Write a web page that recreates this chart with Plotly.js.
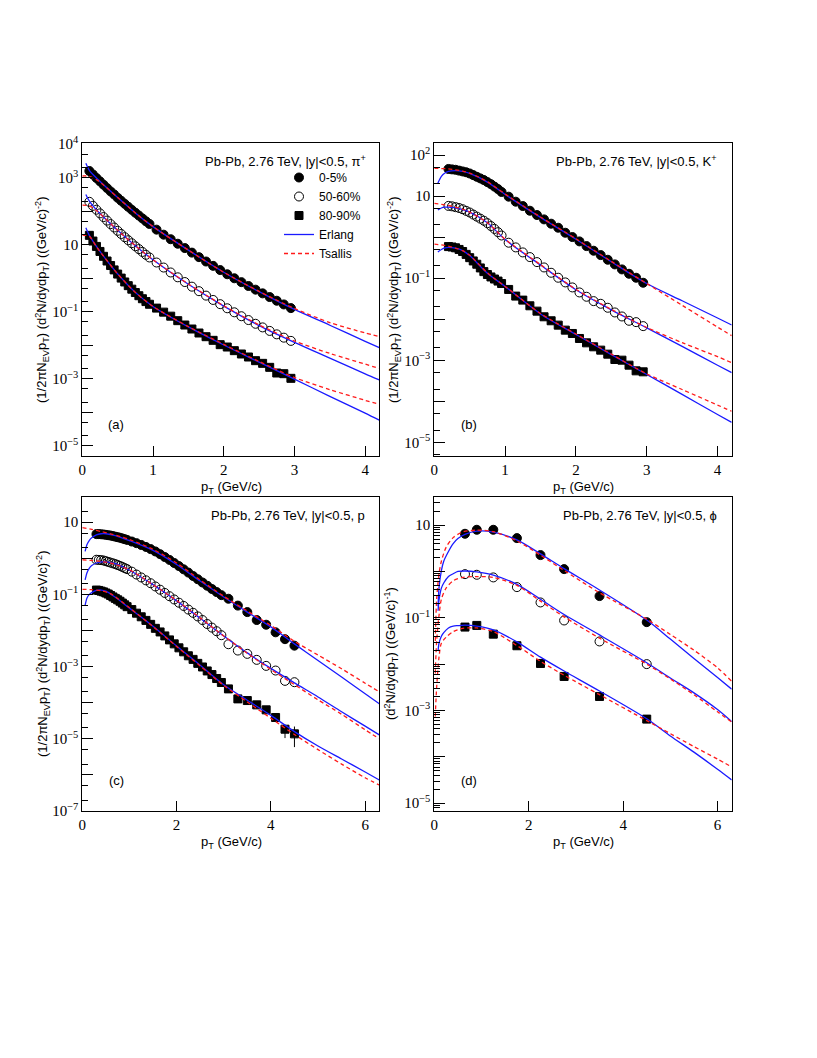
<!DOCTYPE html>
<html><head><meta charset="utf-8">
<script src="https://cdn.plot.ly/plotly-3.0.1.min.js"></script>
<style>body{margin:0;background:#fff}</style>
</head><body><div id="chart" style="width:817px;height:1058px"></div>
<script>
// ---------- data (values stored as log10 exponents) ----------
const ptPion = [0.1,0.15,0.2,0.25,0.3,0.35,0.4,0.45,0.5,0.55,0.6,0.65,0.7,0.75,0.8,0.85,0.9,0.95,
  1.05,1.15,1.25,1.35,1.45,1.55,1.65,1.75,1.85,1.95,2.05,2.15,2.25,2.35,2.45,2.55,2.65,2.75,2.85,2.95];
const pionCentralLog = [3.20,3.095,2.99,2.89,2.79,2.69,2.59,2.50,2.40,2.31,2.22,2.13,2.04,1.955,1.87,1.785,1.70,1.62,
  1.45,1.30,1.165,1.03,0.90,0.765,0.63,0.50,0.37,0.245,0.12,0.0,-0.115,-0.23,-0.34,-0.45,-0.56,-0.67,-0.78,-0.89];
const pionMidLog = [2.28,2.16,2.045,1.935,1.825,1.72,1.615,1.515,1.415,1.32,1.225,1.135,1.045,0.955,0.87,0.785,0.70,0.62,
  0.47,0.32,0.173,0.029,-0.112,-0.25,-0.385,-0.517,-0.646,-0.772,-0.895,-1.015,-1.132,-1.246,-1.357,-1.465,-1.57,-1.672,-1.771,-1.867];
const pionPeriphLog = [1.28,1.11,0.95,0.80,0.655,0.515,0.38,0.25,0.125,0.005,-0.11,-0.22,-0.325,-0.425,-0.52,-0.61,-0.695,-0.775,
  -0.89,-1.01,-1.13,-1.264,-1.394,-1.513,-1.632,-1.742,-1.851,-1.98,-2.05,-2.159,-2.258,-2.348,-2.457,-2.537,-2.656,-2.825,-2.845,-2.984];

const ptKaon = [0.2,0.25,0.3,0.35,0.4,0.45,0.5,0.55,0.6,0.65,0.7,0.75,0.8,0.85,0.9,0.95,
  1.05,1.15,1.25,1.35,1.45,1.55,1.65,1.75,1.85,1.95,2.05,2.15,2.25,2.35,2.45,2.55,2.65,2.75,2.85,2.95];
const kaonCentralLog = [1.66,1.65,1.64,1.62,1.60,1.58,1.55,1.51,1.47,1.43,1.39,1.34,1.29,1.23,1.17,1.10,
  0.985,0.863,0.757,0.643,0.538,0.432,0.327,0.229,0.107,0.002,-0.104,-0.218,-0.331,-0.437,-0.551,-0.664,-0.786,-0.892,-0.989,-1.111];
const kaonMidLog = [0.76,0.75,0.73,0.71,0.68,0.64,0.60,0.55,0.50,0.45,0.40,0.34,0.27,0.20,0.12,0.04,
  -0.136,-0.250,-0.372,-0.486,-0.608,-0.738,-0.868,-0.989,-1.103,-1.225,-1.347,-1.452,-1.558,-1.623,-1.720,-1.834,-1.932,-2.037,-2.070,-2.167];
const kaonPeriphLog = [-0.23,-0.24,-0.26,-0.30,-0.35,-0.42,-0.50,-0.58,-0.66,-0.75,-0.84,-0.91,-0.97,-1.02,-1.07,-1.13,
  -1.274,-1.436,-1.534,-1.672,-1.802,-1.940,-2.037,-2.143,-2.265,-2.346,-2.468,-2.574,-2.671,-2.752,-2.850,-2.980,-2.996,-3.118,-3.256,-3.280];

const ptProton = [0.3,0.35,0.4,0.45,0.5,0.55,0.6,0.65,0.7,0.75,0.8,0.85,0.9,0.95,
  1.05,1.15,1.25,1.35,1.45,1.55,1.65,1.75,1.85,1.95,2.05,2.15,2.25,2.35,2.45,2.55,2.65,2.75,2.85,2.95,
  3.1,3.3,3.5,3.7,3.9,4.1,4.3,4.5];
const protonCentralLog = [0.67,0.67,0.665,0.66,0.65,0.64,0.63,0.615,0.60,0.585,0.57,0.55,0.53,0.51,
  0.465,0.42,0.37,0.315,0.255,0.19,0.115,0.035,-0.045,-0.13,-0.215,-0.305,-0.395,-0.49,-0.58,-0.67,-0.76,-0.85,-0.935,-1.02,
  -1.12,-1.31,-1.49,-1.71,-1.84,-2.05,-2.24,-2.42];
const protonMidLog = [-0.04,-0.045,-0.05,-0.06,-0.08,-0.10,-0.12,-0.14,-0.16,-0.185,-0.21,-0.24,-0.27,-0.30,
  -0.37,-0.45,-0.53,-0.61,-0.69,-0.78,-0.87,-0.96,-1.05,-1.14,-1.23,-1.32,-1.42,-1.51,-1.61,-1.71,-1.82,-1.92,-2.02,-2.13,
  -2.38,-2.555,-2.647,-2.813,-2.98,-3.109,-3.395,-3.432];
const protonPeriphLog = [-0.88,-0.89,-0.91,-0.93,-0.96,-0.99,-1.03,-1.07,-1.11,-1.15,-1.19,-1.24,-1.29,-1.34,
  -1.42,-1.52,-1.62,-1.72,-1.83,-1.94,-2.04,-2.15,-2.26,-2.37,-2.48,-2.59,-2.70,-2.80,-2.91,-3.01,-3.12,-3.22,-3.33,-3.44,
  -3.617,-3.894,-3.94,-4.06,-4.198,-4.41,-4.734,-4.863];
// error bar ends (log10) for the two last peripheral proton points
const protonPeriphErrPt = [4.3,4.5];
const protonPeriphErrHiLog = [-4.61,-4.66];
const protonPeriphErrLoLog = [-4.98,-5.23];

const ptPhi = [0.65,0.9,1.25,1.75,2.25,2.75,3.5,4.5];
const phiCentralLog = [0.813,0.899,0.899,0.719,0.353,0.050,-0.532,-1.094];
const phiMidLog = [-0.058,-0.072,-0.129,-0.338,-0.669,-1.058,-1.511,-2.0];
const phiPeriphLog = [-1.201,-1.165,-1.353,-1.604,-1.986,-2.266,-2.698,-3.187];

// ---------- fit curves (log10) ----------
const erlangPtA = [0.05,0.1,0.2,0.3,0.5,0.75,1.0,1.5,2.0,2.5,3.0,3.5,4.0,4.2];
const tsallisPtA = [0,0.1,0.2,0.3,0.5,0.75,1.0,1.5,2.0,2.5,3.0,3.5,4.0,4.2];
const erlangPionCentral = [3.43,3.22,2.99,2.79,2.41,1.95,1.54,0.84,0.18,-0.40,-0.93,-1.40,-1.88,-2.07];
const tsallisPionCentral = [3.05,3.04,2.94,2.78,2.41,1.95,1.54,0.84,0.18,-0.39,-0.90,-1.32,-1.63,-1.74];
const erlangPionMid = [2.50,2.30,2.04,1.83,1.43,0.97,0.55,-0.18,-0.83,-1.41,-1.91,-2.38,-2.85,-3.03];
const tsallisPionMid = [2.18,2.16,2.02,1.83,1.43,0.97,0.55,-0.17,-0.82,-1.39,-1.87,-2.24,-2.56,-2.69];
const erlangPionPeriph = [1.51,1.28,0.95,0.66,0.13,-0.42,-0.84,-1.45,-1.99,-2.50,-3.01,-3.52,-4.02,-4.23];
const tsallisPionPeriph = [1.29,1.25,0.94,0.66,0.13,-0.42,-0.84,-1.44,-1.97,-2.48,-2.96,-3.32,-3.64,-3.76];

const erlangPtB = [0.05,0.1,0.15,0.2,0.3,0.4,0.5,0.75,1.0,1.5,2.0,2.5,3.0,3.5,4.0,4.2];
const tsallisPtB = [0,0.1,0.2,0.3,0.4,0.5,0.75,1.0,1.5,2.0,2.5,3.0,3.5,4.0,4.2];
const erlangKaonCentral = [1.31,1.48,1.56,1.60,1.62,1.60,1.55,1.34,1.04,0.48,-0.05,-0.60,-1.13,-1.55,-1.97,-2.14];
const tsallisKaonCentral = [1.675,1.67,1.66,1.64,1.61,1.56,1.35,1.05,0.49,-0.04,-0.59,-1.13,-1.66,-2.19,-2.40];
const erlangKaonMid = [0.66,0.71,0.73,0.73,0.71,0.67,0.61,0.35,-0.06,-0.68,-1.28,-1.77,-2.21,-2.66,-3.12,-3.30];
const tsallisKaonMid = [0.82,0.80,0.77,0.73,0.68,0.61,0.35,-0.05,-0.67,-1.27,-1.76,-2.20,-2.57,-2.91,-3.06];
const erlangKaonPeriph = [-0.36,-0.30,-0.26,-0.25,-0.27,-0.33,-0.45,-0.88,-1.20,-1.87,-2.37,-2.86,-3.345,-3.83,-4.32,-4.51];
const tsallisKaonPeriph = [-0.17,-0.19,-0.22,-0.27,-0.33,-0.44,-0.87,-1.20,-1.86,-2.36,-2.85,-3.33,-3.71,-4.09,-4.24];

const erlangPtC = [0.06,0.1,0.15,0.2,0.3,0.4,0.5,0.7,1.0,1.5,2.0,2.5,3.0,3.5,4.0,4.5,5.0,5.5,6.0,6.3];
const tsallisPtC = [0,0.2,0.4,0.6,1.0,1.5,2.0,2.5,3.0,3.5,4.0,4.5,5.0,5.5,6.0,6.3];
const erlangProtonCentral = [0.19,0.38,0.50,0.57,0.65,0.68,0.68,0.63,0.49,0.22,-0.17,-0.63,-1.07,-1.49,-1.90,-2.37,-2.83,-3.29,-3.75,-4.03];
const tsallisProtonCentral = [0.85,0.80,0.74,0.68,0.52,0.25,-0.13,-0.60,-1.05,-1.46,-1.86,-2.30,-2.68,-3.06,-3.46,-3.70];
const erlangProtonMid = [-0.60,-0.40,-0.27,-0.20,-0.13,-0.10,-0.10,-0.15,-0.33,-0.73,-1.18,-1.66,-2.15,-2.62,-3.05,-3.45,-3.84,-4.25,-4.65,-4.89];
const tsallisProtonMid = [-0.04,-0.06,-0.09,-0.13,-0.32,-0.73,-1.17,-1.65,-2.15,-2.63,-3.08,-3.50,-3.92,-4.32,-4.75,-5.00];
const erlangProtonPeriph = [-1.30,-1.10,-1.00,-0.95,-0.89,-0.88,-0.91,-1.08,-1.38,-1.88,-2.43,-2.96,-3.50,-3.93,-4.35,-4.80,-5.20,-5.56,-5.92,-6.14];
const tsallisProtonPeriph = [-0.86,-0.87,-0.90,-0.98,-1.37,-1.89,-2.44,-2.98,-3.52,-3.98,-4.43,-4.88,-5.30,-5.70,-6.08,-6.28];

const erlangPtD = [0.08,0.1,0.15,0.2,0.3,0.4,0.5,0.65,0.9,1.25,1.75,2.25,2.75,3.5,4.5,5.0,5.5,6.0,6.3];
const tsallisPtD = [0.02,0.05,0.1,0.15,0.25,0.4,0.6,0.9,1.25,1.75,2.25,2.75,3.5,4.5,5.0,5.5,6.0,6.3];
const erlangPhiCentral = [-0.75,-0.35,0.02,0.22,0.43,0.60,0.71,0.80,0.87,0.85,0.68,0.38,0.06,-0.40,-1.05,-1.46,-1.88,-2.29,-2.54];
const tsallisPhiCentral = [-1.5,-0.6,-0.05,0.22,0.52,0.73,0.85,0.89,0.86,0.66,0.35,0.02,-0.46,-1.03,-1.36,-1.70,-2.08,-2.37];
const erlangPhiMid = [-0.85,-0.62,-0.36,-0.25,-0.11,-0.05,0.0,0.01,-0.01,-0.08,-0.28,-0.60,-0.93,-1.37,-1.97,-2.30,-2.62,-2.98,-3.24];
const tsallisPhiMid = [-2.2,-1.5,-0.95,-0.6,-0.36,-0.2,-0.13,-0.11,-0.13,-0.30,-0.64,-0.98,-1.44,-2.00,-2.32,-2.66,-3.03,-3.25];
const erlangPhiPeriph = [-1.72,-1.55,-1.40,-1.32,-1.22,-1.18,-1.17,-1.16,-1.18,-1.26,-1.52,-1.85,-2.15,-2.58,-3.18,-3.55,-3.90,-4.27,-4.50];
const tsallisPhiPeriph = [-3.13,-2.5,-1.85,-1.55,-1.42,-1.30,-1.23,-1.22,-1.30,-1.60,-1.94,-2.24,-2.66,-3.22,-3.50,-3.78,-4.05,-4.22];

const centralityNames = ['0-5%','50-60%','80-90%'];
const fitNames = ['Erlang','Tsallis'];

// ---------- helpers ----------
const W = 817, H = 1058;
const PX = p => p / W, PY = p => 1 - p / H;
const pow = a => a.map(v => Math.pow(10, v));
const SYMBOLS = ['circle','circle-open','square'];

function dataTrace(x, logs, k, sub, size, legend) {
  return {x: x, y: pow(logs), mode: 'markers', type: 'scatter',
    xaxis: 'x' + sub, yaxis: 'y' + sub, name: centralityNames[k], showlegend: !!legend,
    marker: {symbol: SYMBOLS[k], size: k === 2 ? size - 1 : size, color: 'black', line: {color: 'black', width: 1}},
    cliponaxis: true};
}
function curveTrace(x, logs, fit, sub, legend) {
  return {x: x, y: pow(logs), mode: 'lines', type: 'scatter',
    xaxis: 'x' + sub, yaxis: 'y' + sub, name: fitNames[fit], showlegend: !!legend,
    line: fit === 0 ? {color: '#1a1aff', width: 1.3, shape: 'spline', smoothing: 0.8}
                    : {color: '#ff1a1a', width: 1.3, dash: '4px,3px', shape: 'spline', smoothing: 0.8},
    hoverinfo: 'skip'};
}

const traces = [];
// panel (a) pions
traces.push(dataTrace(ptPion, pionCentralLog, 0, '', 9, true));
traces.push(dataTrace(ptPion, pionMidLog, 1, '', 9, true));
traces.push(dataTrace(ptPion, pionPeriphLog, 2, '', 9, true));
traces.push(curveTrace(erlangPtA, erlangPionCentral, 0, '', true));
traces.push(curveTrace(tsallisPtA, tsallisPionCentral, 1, '', true));
traces.push(curveTrace(erlangPtA, erlangPionMid, 0, ''));
traces.push(curveTrace(tsallisPtA, tsallisPionMid, 1, ''));
traces.push(curveTrace(erlangPtA, erlangPionPeriph, 0, ''));
traces.push(curveTrace(tsallisPtA, tsallisPionPeriph, 1, ''));
// panel (b) kaons
traces.push(dataTrace(ptKaon, kaonCentralLog, 0, '2', 9));
traces.push(dataTrace(ptKaon, kaonMidLog, 1, '2', 9));
traces.push(dataTrace(ptKaon, kaonPeriphLog, 2, '2', 9));
traces.push(curveTrace(erlangPtB, erlangKaonCentral, 0, '2'));
traces.push(curveTrace(tsallisPtB, tsallisKaonCentral, 1, '2'));
traces.push(curveTrace(erlangPtB, erlangKaonMid, 0, '2'));
traces.push(curveTrace(tsallisPtB, tsallisKaonMid, 1, '2'));
traces.push(curveTrace(erlangPtB, erlangKaonPeriph, 0, '2'));
traces.push(curveTrace(tsallisPtB, tsallisKaonPeriph, 1, '2'));
// panel (c) protons
traces.push(dataTrace(ptProton, protonCentralLog, 0, '3', 9));
traces.push(dataTrace(ptProton, protonMidLog, 1, '3', 9));
const periphP = dataTrace(ptProton, protonPeriphLog, 2, '3', 9);
const errUp = ptProton.map(() => 0), errDn = ptProton.map(() => 0);
protonPeriphErrPt.forEach((p, i) => {
  const j = ptProton.indexOf(p);
  const y = Math.pow(10, protonPeriphLog[j]);
  errUp[j] = Math.pow(10, protonPeriphErrHiLog[i]) - y;
  errDn[j] = y - Math.pow(10, protonPeriphErrLoLog[i]);
});
periphP.error_y = {type: 'data', symmetric: false, array: errUp, arrayminus: errDn, thickness: 1, width: 0, color: 'black'};
traces.push(periphP);
traces.push(curveTrace(erlangPtC, erlangProtonCentral, 0, '3'));
traces.push(curveTrace(tsallisPtC, tsallisProtonCentral, 1, '3'));
traces.push(curveTrace(erlangPtC, erlangProtonMid, 0, '3'));
traces.push(curveTrace(tsallisPtC, tsallisProtonMid, 1, '3'));
traces.push(curveTrace(erlangPtC, erlangProtonPeriph, 0, '3'));
traces.push(curveTrace(tsallisPtC, tsallisProtonPeriph, 1, '3'));
// panel (d) phi
traces.push(dataTrace(ptPhi, phiCentralLog, 0, '4', 9));
traces.push(dataTrace(ptPhi, phiMidLog, 1, '4', 9));
traces.push(dataTrace(ptPhi, phiPeriphLog, 2, '4', 9));
traces.push(curveTrace(erlangPtD, erlangPhiCentral, 0, '4'));
traces.push(curveTrace(tsallisPtD, tsallisPhiCentral, 1, '4'));
traces.push(curveTrace(erlangPtD, erlangPhiMid, 0, '4'));
traces.push(curveTrace(tsallisPtD, tsallisPhiMid, 1, '4'));
traces.push(curveTrace(erlangPtD, erlangPhiPeriph, 0, '4'));
traces.push(curveTrace(tsallisPtD, tsallisPhiPeriph, 1, '4'));

// ---------- axes ----------
const tickFont = {family: 'Liberation Serif, Times New Roman, serif', size: 15, color: 'black'};
function xAxis(domain, range, tickvals, anchor) {
  return {domain: domain, range: range, anchor: anchor, tickmode: 'array', tickvals: tickvals,
    ticktext: tickvals.map(String), ticks: 'inside', ticklen: 10, tickwidth: 1, tickcolor: 'black',
    showline: true, linecolor: 'black', linewidth: 1, mirror: true, showgrid: false, zeroline: false,
    tickfont: tickFont, fixedrange: true};
}
function supExp(d) {
  if (d === 1) return '10';
  if (d === 0) return '1';
  return '10<sup>' + (d < 0 ? '\u2212' + (-d) : String(d)) + '</sup>';
}
function yAxis(domain, range, labelled, mults, anchor) {
  const lo = Math.floor(range[0]), hi = Math.ceil(range[1]);
  const tv = [], tt = [], minor = [];
  for (let d = lo; d <= hi; d++) {
    tv.push(Math.pow(10, d));
    tt.push(labelled.includes(d) ? supExp(d) : '');
    mults.forEach(m => minor.push(m * Math.pow(10, d)));
  }
  return {domain: domain, type: 'log', range: range, anchor: anchor, tickmode: 'array',
    tickvals: tv, ticktext: tt, ticks: 'inside', ticklen: 11, tickwidth: 1, tickcolor: 'black',
    minor: {tickmode: 'array', tickvals: minor, ticks: 'inside', ticklen: 6, tickwidth: 1, tickcolor: 'black', showgrid: false},
    showline: true, linecolor: 'black', linewidth: 1, mirror: true, showgrid: false, zeroline: false,
    tickfont: tickFont, fixedrange: true};
}

const dxL = [PX(82.3), PX(379.3)], dxR = [PX(434.3), PX(731.7)];
const dyT = [PY(456), PY(143.3)], dyB = [PY(811), PY(497.3)];

const sans = {family: 'Liberation Sans, Arial, sans-serif', size: 13, color: 'black'};
const yTitle = '(1/2\u03c0N<sub>EV</sub>p<sub>T</sub>) (d<sup>2</sup>N/dydp<sub>T</sub>) ((GeV/c)<sup>-2</sup>)';
const yTitleD = '(d<sup>2</sup>N/dydp<sub>T</sub>) ((GeV/c)<sup>-1</sup>)';
const xTitle = 'p<sub>T</sub> (GeV/c)';
function ann(text, x, y, xanchor, extra) {
  return Object.assign({text: text, x: x, y: y, xref: 'paper', yref: 'paper', xanchor: xanchor || 'center',
    yanchor: 'middle', showarrow: false, font: sans}, extra || {});
}
const annotations = [
  ann('Pb-Pb, 2.76 TeV, |y|<0.5, \u03c0<sup>+</sup>', PX(368), PY(161), 'right'),
  ann('Pb-Pb, 2.76 TeV, |y|<0.5, K<sup>+</sup>', PX(719), PY(161), 'right'),
  ann('Pb-Pb, 2.76 TeV, |y|<0.5, p', PX(367), PY(515), 'right'),
  ann('Pb-Pb, 2.76 TeV, |y|<0.5, \u03d5', PX(719), PY(515), 'right'),
  ann('(a)', PX(116), PY(425)), ann('(b)', PX(469), PY(425)),
  ann('(c)', PX(116), PY(780)), ann('(d)', PX(469), PY(780)),
  ann(xTitle, PX(231), PY(488)), ann(xTitle, PX(583), PY(488)),
  ann(xTitle, PX(231), PY(842)), ann(xTitle, PX(583), PY(842)),
  ann(yTitle, PX(42), PY(300), 'center', {textangle: -90}),
  ann(yTitle, PX(394), PY(300), 'center', {textangle: -90}),
  ann(yTitle, PX(43), PY(654), 'center', {textangle: -90}),
  ann(yTitleD, PX(391), PY(654), 'center', {textangle: -90})
];

const layout = {
  width: W, height: H, margin: {l: 0, r: 0, t: 0, b: 0},
  paper_bgcolor: 'white', plot_bgcolor: 'white',
  xaxis: xAxis(dxL, [0, 4.2], [0,1,2,3,4], 'y'),
  yaxis: yAxis(dyT, [-5.3, 4.025], [4,3,1,-1,-3,-5], [2,5], 'x'),
  xaxis2: xAxis(dxR, [0, 4.2], [0,1,2,3,4], 'y2'),
  yaxis2: yAxis(dyT, [-5.33, 2.285], [2,1,-1,-3,-5], [2,5], 'x2'),
  xaxis3: xAxis(dxL, [0, 6.3], [0,2,4,6], 'y3'),
  yaxis3: yAxis(dyB, [-7, 1.69], [1,-1,-3,-5,-7], [2,5], 'x3'),
  xaxis4: xAxis(dxR, [0, 6.3], [0,2,4,6], 'y4'),
  yaxis4: yAxis(dyB, [-5.17, 1.6], [1,-1,-3,-5], [2,3,4,5,6,7,8,9], 'x4'),
  showlegend: true,
  legend: {x: PX(279), y: PY(163), xanchor: 'left', yanchor: 'top', bgcolor: 'rgba(0,0,0,0)',
    font: {family: 'Liberation Sans, Arial, sans-serif', size: 12, color: 'black'}, tracegroupgap: 0},
  annotations: annotations
};

Plotly.newPlot('chart', traces, layout, {displayModeBar: false, staticPlot: true});
</script>
</body></html>
